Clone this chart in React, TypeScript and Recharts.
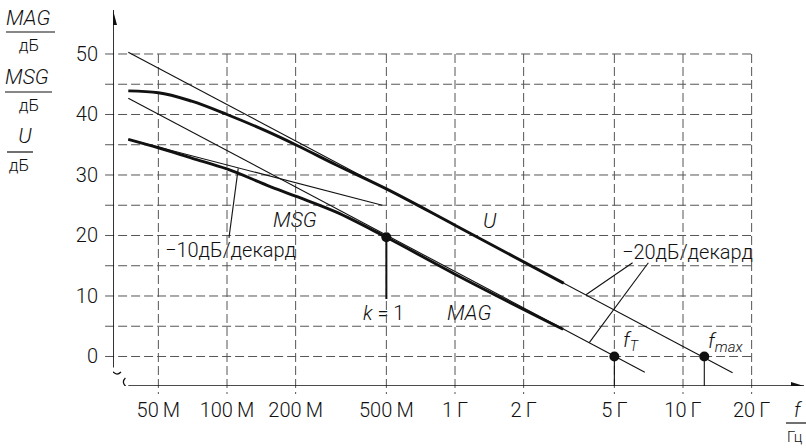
import { ComposedChart, Line, Scatter, XAxis, YAxis, ReferenceLine } from "recharts";

// frequency in MHz, gain in dB
const F_MIN = 10 ** 1.5;
const F_MAX = 10 ** 4.5307;
const DB_MIN = -4.876;
const DB_MAX = 57.27;

const freqTicks = [50, 100, 200, 500, 1000, 2000, 5000, 10000, 20000];
const freqLabels = ["50\u2009M", "100\u2009M", "200\u2009M", "500\u2009M", "1\u2009Г", "2\u2009Г", "5\u2009Г", "10\u2009Г", "20\u2009Г"];
const dbTicks = [0, 10, 20, 30, 40, 50];
const gridDb = [0, 5, 10, 15, 20, 25, 30, 35, 40, 45, 50];

const uCurve = [
  { f: 36.9, db: 43.9 },
  { f: 50, db: 43.6 },
  { f: 70, db: 42.2 },
  { f: 100, db: 40.0 },
  { f: 150, db: 37.2 },
  { f: 200, db: 35.0 },
  { f: 300, db: 31.7 },
  { f: 500, db: 27.7 },
  { f: 1000, db: 21.7 },
  { f: 3000, db: 12.1 },
];

const magCurve = [
  { f: 36.9, db: 35.9 },
  { f: 50, db: 34.5 },
  { f: 70, db: 32.8 },
  { f: 100, db: 31.0 },
  { f: 150, db: 28.3 },
  { f: 200, db: 26.5 },
  { f: 300, db: 23.9 },
  { f: 500, db: 19.7 },
  { f: 1000, db: 13.6 },
  { f: 2980, db: 4.5 },
];

const uAsymptote = [
  { f: 36.9, db: 50.3 },
  { f: 16500, db: -2.7 },
];

const magAsymptote = [
  { f: 36.9, db: 42.7 },
  { f: 6800, db: -2.6 },
];

const slope10 = [
  { f: 36.9, db: 35.9 },
  { f: 480, db: 25.0 },
];

const leader10 = [
  { f: 102, db: 19.6 },
  { f: 112, db: 31.1 },
];
const leader20U = [
  { f: 6010, db: 15.5 },
  { f: 3754, db: 10.2 },
];
const leader20Mag = [
  { f: 7047, db: 15.5 },
  { f: 3881, db: 2.3 },
];

const kStem = [
  { f: 500, db: 19.7 },
  { f: 500, db: 9.5 },
];
const fTStem = [
  { f: 5000, db: 0 },
  { f: 5000, db: DB_MIN },
];
const fMaxStem = [
  { f: 12400, db: 0 },
  { f: 12400, db: DB_MIN },
];

const markers = [
  { f: 500, db: 19.7 },
  { f: 5000, db: 0 },
  { f: 12400, db: 0 },
];

const xAxisLine = [
  { f: 36.9, db: DB_MIN },
  { f: F_MAX, db: DB_MIN },
];
const yAxisLine = [
  { f: F_MIN, db: -1.8 },
  { f: F_MIN, db: DB_MAX },
];
const xArrow = [{ f: F_MAX, db: DB_MIN }];
const yArrow = [{ f: F_MIN, db: DB_MAX }];
const yBreak = [{ f: F_MIN, db: -2.4 }];
const xBreak = [{ f: 36.2, db: DB_MIN }];

const FONT = "Roboto, 'Liberation Sans', Arial, sans-serif";
const INK = "#111";

const XTick = (props: any) => {
  const { x, payload } = props;
  const i = freqTicks.indexOf(payload.value);
  return (
    <text x={x} y={417} textAnchor="middle" fontSize={20} fontFamily={FONT} fontWeight={300} fill={INK}>
      {freqLabels[i]}
    </text>
  );
};

const YTick = (props: any) => {
  const { y, payload } = props;
  return (
    <text x={98} y={y + 7} textAnchor="end" fontSize={20} fontFamily={FONT} fontWeight={300} fill={INK}>
      {payload.value}
    </text>
  );
};

const thin = (data: any[], w = 1.1) => (
  <Line
    data={data}
    dataKey="db"
    type="linear"
    stroke={INK}
    strokeWidth={w}
    dot={false}
    activeDot={false}
    isAnimationActive={false}
  />
);

const thick = (data: any[]) => (
  <Line
    data={data}
    dataKey="db"
    type="monotone"
    stroke={INK}
    strokeWidth={2.9}
    dot={false}
    activeDot={false}
    isAnimationActive={false}
  />
);

const dash = { stroke: "#555", strokeWidth: 1, strokeDasharray: "9 4" };

export default function App() {
  return (
    <div style={{ position: "absolute", left: 0, top: 0, width: 806, height: 448, background: "#fff" }}>
      <ComposedChart width={806} height={448} margin={{ top: 10, right: 2, left: 53, bottom: 32 }}>
        <XAxis
          dataKey="f"
          type="number"
          scale="log"
          domain={[F_MIN, F_MAX]}
          allowDataOverflow
          ticks={freqTicks}
          tick={<XTick />}
          axisLine={false}
          tickLine={false}
          height={30}
        />
        <YAxis
          dataKey="db"
          type="number"
          domain={[DB_MIN, DB_MAX]}
          allowDataOverflow
          ticks={dbTicks}
          tick={<YTick />}
          axisLine={false}
          tickLine={false}
          width={60}
        />
        {gridDb.map((d) => (
          <ReferenceLine key={"h" + d} segment={[{ x: 29.2, y: d }, { x: 20000, y: d }]} ifOverflow="visible" {...dash} />
        ))}
        {freqTicks.map((f) => (
          <ReferenceLine key={"v" + f} segment={[{ x: f, y: 50 }, { x: f, y: -6.2 }]} ifOverflow="visible" {...dash} />
        ))}

        {thin(xAxisLine, 1.7)}
        {thin(yAxisLine, 1.7)}
        {thin(uAsymptote)}
        {thin(magAsymptote)}
        {thin(slope10)}
        {thin(leader10)}
        {thin(leader20U)}
        {thin(leader20Mag)}
        {thin(kStem, 2)}
        {thin(fTStem)}
        {thin(fMaxStem)}
        {thick(uCurve)}
        {thick(magCurve)}

        <Scatter data={markers} fill={INK} isAnimationActive={false} shape={(p: any) => <circle cx={p.cx} cy={p.cy} r={5} fill={INK} />} />
        <Scatter
          data={xArrow}
          isAnimationActive={false}
          shape={(p: any) => <polygon points={`${p.cx},${p.cy} ${p.cx - 13},${p.cy - 4} ${p.cx - 13},${p.cy + 4}`} fill={INK} />}
        />
        <Scatter
          data={yArrow}
          isAnimationActive={false}
          shape={(p: any) => <polygon points={`${p.cx},${p.cy} ${p.cx - 4},${p.cy + 15} ${p.cx + 4},${p.cy + 15}`} fill={INK} />}
        />
        <Scatter
          data={yBreak}
          isAnimationActive={false}
          shape={(p: any) => (
            <path d={`M${p.cx - 8},${p.cy + 1} q4,-4 8,0 t8,0`} fill="none" stroke={INK} strokeWidth={1.2} />
          )}
        />
        <Scatter
          data={xBreak}
          isAnimationActive={false}
          shape={(p: any) => (
            <path d={`M${p.cx - 1},${p.cy - 8} q-4,4 0,8 t0,8`} fill="none" stroke={INK} strokeWidth={1.2} />
          )}
        />

        <g fontFamily={FONT} fill={INK} fontWeight={300}>
          <text x={6} y={25} fontSize={21} fontStyle="italic">MAG</text>
          <line x1={6} x2={55} y1={32} y2={32} stroke={INK} strokeWidth={1.2} />
          <text x={29} y={51} fontSize={17} textAnchor="middle">дБ</text>
          <text x={5} y={84} fontSize={21} fontStyle="italic">MSG</text>
          <line x1={5} x2={52} y1={92} y2={92} stroke={INK} strokeWidth={1.2} />
          <text x={29} y={111} fontSize={17} textAnchor="middle">дБ</text>
          <text x={25} y={143} fontSize={21} fontStyle="italic" textAnchor="middle">U</text>
          <line x1={7} x2={33} y1={152} y2={152} stroke={INK} strokeWidth={1.2} />
          <text x={19} y={171} fontSize={17} textAnchor="middle">дБ</text>

          <text x={165} y={257} fontSize={20}>−10дБ/декард</text>
          <text x={273} y={227} fontSize={21} fontStyle="italic">MSG</text>
          <text x={363} y={320} fontSize={20}>
            <tspan fontStyle="italic">k</tspan> = 1
          </text>
          <text x={447} y={320} fontSize={21} fontStyle="italic">MAG</text>
          <text x={483} y={228} fontSize={21} fontStyle="italic">U</text>
          <text x={622} y={259} fontSize={20}>−20дБ/декард</text>
          <text x={623} y={347} fontSize={21} fontStyle="italic">
            f<tspan fontSize={14} dy={4}>T</tspan>
          </text>
          <text x={708} y={348} fontSize={21} fontStyle="italic">
            f<tspan fontSize={15} dy={4}>max</tspan>
          </text>
          <text x={794} y={417} fontSize={20} fontStyle="italic">f</text>
          <line x1={786} x2={806} y1={423} y2={423} stroke={INK} strokeWidth={1.2} />
          <text x={787} y={442} fontSize={15}>Гц</text>
        </g>
      </ComposedChart>
    </div>
  );
}
